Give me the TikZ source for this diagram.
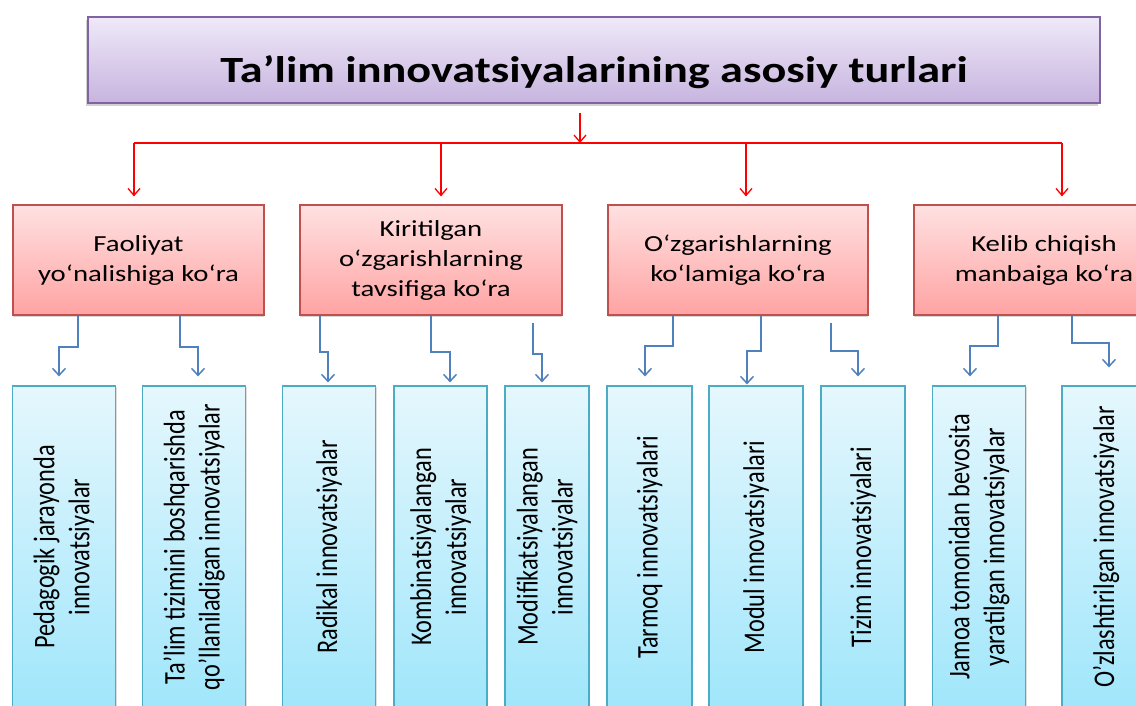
\documentclass[tikz,border=0pt]{standalone}
\usepackage{fontspec}
\setmainfont{Carlito}
\newfontfamily\widefont[FakeStretch=1.25]{Carlito}
\newfontfamily\tallfont[FakeStretch=0.81]{Carlito}
\usetikzlibrary{arrows.meta, calc, shadows, positioning}

\definecolor{titletop}{HTML}{EFE9F8}
\definecolor{titlebot}{HTML}{C7B4DF}
\definecolor{titleedge}{HTML}{8064A2}
\definecolor{redtop}{HTML}{FFE1E1}
\definecolor{redbot}{HTML}{FFA3A3}
\definecolor{rededge}{HTML}{C0504D}
\definecolor{bluetop}{HTML}{E5F7FD}
\definecolor{bluebot}{HTML}{A0E6FB}
\definecolor{blueedge}{HTML}{4BACC6}
\definecolor{bluearrow}{HTML}{4F81BD}

\tikzset{
  titlebox/.style={draw=titleedge, line width=1.2pt, top color=titletop, bottom color=titlebot,
    minimum width=1012pt, minimum height=86pt, inner sep=0pt, text height=44pt, text depth=0pt,
    drop shadow={shadow xshift=-2pt, shadow yshift=-3pt, opacity=0.35},
    font=\widefont\bfseries\fontsize{37}{44}\selectfont},
  groupbox/.style={draw=rededge, line width=1.2pt, top color=redtop, bottom color=redbot,
    minimum height=110pt, inner sep=0pt, align=center,
    drop shadow={shadow xshift=0pt, shadow yshift=-2pt, opacity=0.3},
    font=\widefont\fontsize{23}{30}\selectfont},
  kindbox/.style={draw=blueedge, line width=1.2pt, rotate=90, top color=bluetop, bottom color=bluebot,
    minimum width=322pt, inner sep=0pt, align=center,
    drop shadow={shadow xshift=1pt, shadow yshift=-1pt, opacity=0.25},
    font=\tallfont\fontsize{30}{35}\selectfont},
  redarr/.style={draw=red, line width=1.3pt, -{Straight Barb[length=7pt, width=12pt]}},
  bluearr/.style={draw=bluearrow, line width=1.5pt, -{Straight Barb[length=7pt, width=13pt]}}
}

\begin{document}
\begin{tikzpicture}[x=1pt, y=-1pt]
  \clip (0,0) rectangle (1136,705);
  \fill[white] (0,0) rectangle (1136,705);

  % Title
  \node[titlebox] (title) at (594,60) {Ta’lim innovatsiyalarining asosiy turlari};

  % Groups
  \node[groupbox, minimum width=251pt] (r1) at (138.5,260) {Faoliyat\\yo‘nalishiga ko‘ra};
  \node[groupbox, minimum width=262pt] (r2) at (431,260) {Kiritilgan\\o‘zgarishlarning\\tavsifiga ko‘ra};
  \node[groupbox, minimum width=260pt] (r3) at (738,260) {O‘zgarishlarning\\ko‘lamiga ko‘ra};
  \node[groupbox, minimum width=260pt] (r4) at (1044,260) {Kelib chiqish\\manbaiga ko‘ra};

  % Red bus
  \coordinate (bus) at (580,143);
  \draw[redarr] ([yshift=-9pt]title.south -| bus) -- (bus);
  \draw[red, line width=1.3pt] (134,143) -- (1062,143);
  \foreach \x/\n in {134/r1, 441/r2, 746/r3, 1062/r4}
    \draw[redarr] (\x,143) -- ([yshift=8pt]\n.north -| \x,0);

  % Kinds (rotated, so east is the top side)
  \node[kindbox, minimum height=103pt] (b1) at (64,547) {Pedagogik jarayonda\\innovatsiyalar};
  \node[kindbox, minimum height=103pt] (b2) at (194,547) {Ta’lim tizimini boshqarishda\\qo’llaniladigan innovatsiyalar};
  \node[kindbox, minimum height=93pt] (b3) at (329,547) {Radikal innovatsiyalar};
  \node[kindbox, minimum height=93pt] (b4) at (440.5,547) {Kombinatsiyalangan\\innovatsiyalar};
  \node[kindbox, minimum height=84pt] (b5) at (547,547) {Modifikatsiyalangan\\innovatsiyalar};
  \node[kindbox, minimum height=85pt] (b6) at (649.5,547) {Tarmoq innovatsiyalari};
  \node[kindbox, minimum height=94pt] (b7) at (756,547) {Modul innovatsiyalari};
  \node[kindbox, minimum height=84pt] (b8) at (863,547) {Tizim innovatsiyalari};
  \node[kindbox, minimum height=93pt] (b9) at (979,547) {Jamoa tomonidan bevosita\\yaratilgan innovatsiyalar};
  \node[kindbox, minimum height=88pt] (b10) at (1106,547) {O’zlashtirilgan innovatsiyalar};

  % Blue elbows
  \coordinate (s5) at (533,323);
  \coordinate (s8) at (831,323);
  \draw[bluearr] (r1.south -| 78,0) |- (59,347) -- ([yshift=9pt]b1.east -| 59,0);
  \draw[bluearr] (r1.south -| 180,0) |- (198,347) -- ([yshift=9pt]b2.east -| 198,0);
  \draw[bluearr] (r2.south -| 320,0) |- (328,352) -- ([yshift=3pt]b3.east -| 328,0);
  \draw[bluearr] (r2.south -| 431,0) |- (450,352) -- ([yshift=3pt]b4.east -| 450,0);
  \draw[bluearr] (s5) |- (542,354) -- ([yshift=3pt]b5.east -| 542,0);
  \draw[bluearr] (r3.south -| 673,0) |- (645,346) -- ([yshift=9pt]b6.east -| 645,0);
  \draw[bluearr] (r3.south -| 761,0) |- (747,351) -- ([yshift=1pt]b7.east -| 747,0);
  \draw[bluearr] (s8) |- (858,351) -- ([yshift=9pt]b8.east -| 858,0);
  \draw[bluearr] (r4.south -| 998,0) |- (970,346) -- ([yshift=9pt]b9.east -| 970,0);
  \draw[bluearr] (r4.south -| 1072,0) |- (1109,343) -- ([yshift=18pt]b10.east -| 1109,0);
\end{tikzpicture}
\end{document}
